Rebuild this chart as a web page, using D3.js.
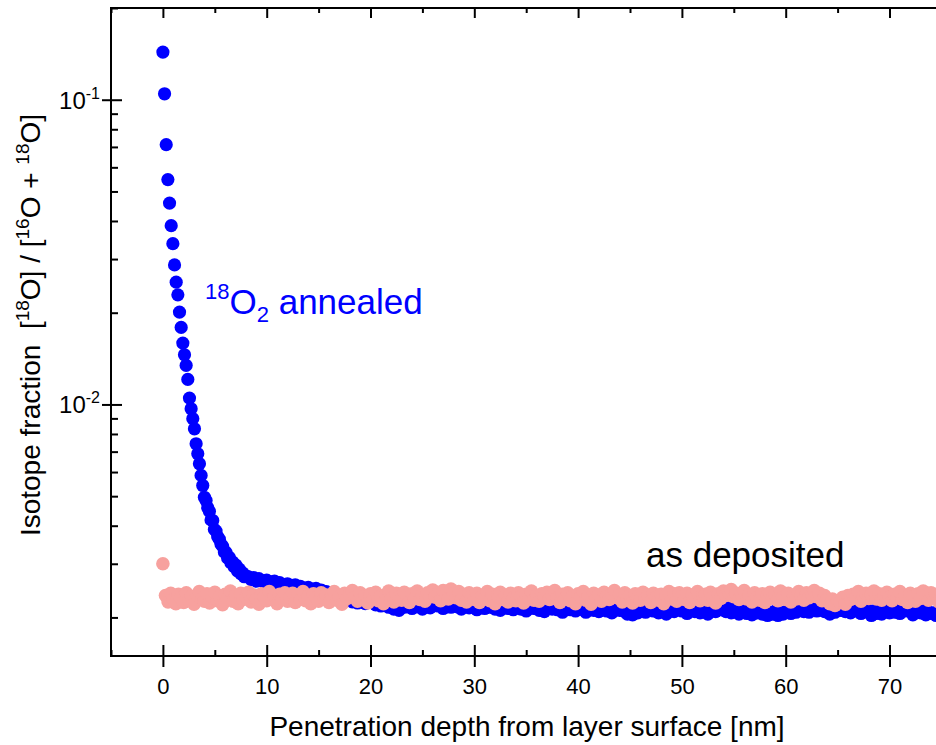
<!DOCTYPE html>
<html>
<head>
<meta charset="utf-8">
<script src="https://cdn.jsdelivr.net/npm/d3@7/dist/d3.min.js"></script>
<style>
  body { margin: 0; background: #fff; }
  text { font-family: Arial, "Liberation Sans", sans-serif; }
</style>
</head>
<body>
<svg id="chart" width="936" height="745"></svg>
<script>
// depth ticks (nm) and isotope fraction ticks
var depthMajor = [0, 10, 20, 30, 40, 50, 60, 70, 80];
var depthMinor = [-5, 5, 15, 25, 35, 45, 55, 65, 75];
var fracMajor = [0.01, 0.1];
var fracMinor = [0.002, 0.003, 0.004, 0.005, 0.006, 0.007, 0.008, 0.009,
                 0.02, 0.03, 0.04, 0.05, 0.06, 0.07, 0.08, 0.09, 0.2];

// 18O2 annealed: [depth nm, fraction]
var annealed = [
  [0, 0.1433], [0.16, 0.1046], [0.32, 0.0712], [0.48, 0.0547], [0.64, 0.0458],
  [0.8, 0.0386], [0.96, 0.0337], [1.12, 0.0287], [1.28, 0.0252], [1.44, 0.0229],
  [1.6, 0.0201], [1.76, 0.0179], [1.92, 0.0159], [2.08, 0.01456], [2.24, 0.01343],
  [2.4, 0.01208], [2.56, 0.01049], [2.72, 0.00968], [2.88, 0.00898], [3.04, 0.00832],
  [3.2, 0.00743], [3.36, 0.00689], [3.52, 0.00639], [3.68, 0.00585], [3.84, 0.00542],
  [4.0, 0.00496], [4.16, 0.00484], [4.32, 0.00458], [4.48, 0.00446], [4.64, 0.00418],
  [4.8, 0.00416], [4.96, 0.00389], [5.12, 0.00384], [5.28, 0.00368], [5.44, 0.00361],
  [5.6, 0.00348], [5.76, 0.00342], [5.92, 0.00328], [6.08, 0.00327], [6.24, 0.00313],
  [6.4, 0.00315], [6.56, 0.00302], [6.72, 0.00304], [6.88, 0.00293], [7.04, 0.00297],
  [7.2, 0.00284], [7.36, 0.00288], [7.52, 0.00278], [7.68, 0.00280], [7.84, 0.00272],
  [8.0, 0.00274],
  [8.25,0.00272],[8.5,0.00266],[8.75,0.00270],[9,0.00263],[9.25,0.00268],[9.5,0.00264],[9.75,0.00261],[10,0.00265],
  [10.25,0.00262],[10.5,0.00258],[10.75,0.00263],[11,0.00256],[11.25,0.00260],[11.5,0.00257],[11.75,0.00253],[12,0.00258],
  [12.25,0.00255],[12.5,0.00251],[12.75,0.00256],[13,0.00249],[13.25,0.00253],[13.5,0.00250],[13.75,0.00247],[14,0.00251],
  [14.25,0.00248],[14.5,0.00244],[14.75,0.00249],[15,0.00242],[15.25,0.00246],[15.5,0.00241],[15.75,0.00243],[16,0.00238],
  [16.25,0.00236],[16.5,0.00231],[16.75,0.00235],[17,0.00228],[17.25,0.00233],[17.5,0.00226],[17.75,0.00231],[18,0.00229],
  [18.25,0.00225],[18.5,0.00231],[18.75,0.00223],[19,0.00228],[19.25,0.00232],[19.5,0.00222],[19.75,0.00227],[20,0.00224],
  [20.25,0.00229],[20.5,0.00220],[20.75,0.00226],[21,0.00218],[21.25,0.00224],[21.5,0.00221],[21.75,0.00216],[22,0.00222],
  [22.25,0.00213],[22.5,0.00218],[22.75,0.00211],[23,0.00220],[23.25,0.00216],[23.5,0.00225],[23.75,0.00219],[24,0.00214],
  [24.25,0.00222],[24.5,0.00217],[24.75,0.00227],[25,0.00213],[25.25,0.00220],[25.5,0.00224],[25.75,0.00215],[26,0.00221],
  [26.25,0.00226],[26.5,0.00218],[26.75,0.00223],[27,0.00214],[27.25,0.00219],[27.5,0.00225],[27.75,0.00216],[28,0.00221],
  [28.25,0.00217],[28.5,0.00224],[28.75,0.00213],[29,0.00220],[29.25,0.00226],[29.5,0.00215],[29.75,0.00219],[30,0.00222],
  [30.25,0.00212],[30.5,0.00219],[30.75,0.00223],[31,0.00214],[31.25,0.00221],[31.5,0.00216],[31.75,0.00224],[32,0.00213],
  [32.25,0.00218],[32.5,0.00211],[32.75,0.00220],[33,0.00225],[33.25,0.00214],[33.5,0.00219],[33.75,0.00212],[34,0.00217],
  [34.25,0.00222],[34.5,0.00213],[34.75,0.00219],[35,0.00210],[35.25,0.00216],[35.5,0.00223],[35.75,0.00214],[36,0.00218],
  [36.25,0.00211],[36.5,0.00220],[36.75,0.00209],[37,0.00216],[37.25,0.00222],[37.5,0.00213],[37.75,0.00218],[38,0.00212],
  [38.25,0.00219],[38.5,0.00208],[38.75,0.00215],[39,0.00221],[39.25,0.00212],[39.5,0.00217],[39.75,0.00210],[40,0.00220],
  [40.25,0.00213],[40.5,0.00217],[40.75,0.00208],[41,0.00215],[41.25,0.00221],[41.5,0.00211],[41.75,0.00216],[42,0.00209],
  [42.25,0.00214],[42.5,0.00220],[42.75,0.00210],[43,0.00216],[43.25,0.00207],[43.5,0.00213],[43.75,0.00218],[44,0.00211],
  [44.25,0.00215],[44.5,0.00209],[44.75,0.00205],[45,0.00212],[45.25,0.00204],[45.5,0.00210],[45.75,0.00207],[46,0.00213],
  [46.25,0.00216],[46.5,0.00208],[46.75,0.00214],[47,0.00218],[47.25,0.00210],[47.5,0.00213],[47.75,0.00207],[48,0.00216],
  [48.25,0.00211],[48.5,0.00205],[48.75,0.00214],[49,0.00219],[49.25,0.00209],[49.5,0.00213],[49.75,0.00217],[50,0.00210],
  [50.25,0.00215],[50.5,0.00206],[50.75,0.00212],[51,0.00218],[51.25,0.00209],[51.5,0.00214],[51.75,0.00207],[52,0.00216],
  [52.25,0.00210],[52.5,0.00205],[52.75,0.00213],[53,0.00218],[53.25,0.00209],[53.5,0.00215],[53.75,0.00212],[54,0.00219],
  [54.25,0.00209],[54.5,0.00214],[54.75,0.00207],[55,0.00215],[55.25,0.00211],[55.5,0.00205],[55.75,0.00213],[56,0.00210],
  [56.25,0.00206],[56.5,0.00212],[56.75,0.00204],[57,0.00209],[57.25,0.00207],[57.5,0.00211],[57.75,0.00205],[58,0.00210],
  [58.25,0.00203],[58.5,0.00208],[58.75,0.00205],[59,0.00210],[59.25,0.00203],[59.5,0.00207],[59.75,0.00205],[60,0.00209],
  [60.25,0.00210],[60.5,0.00206],[60.75,0.00213],[61,0.00208],[61.25,0.00212],[61.5,0.00216],[61.75,0.00209],[62,0.00214],
  [62.25,0.00208],[62.5,0.00213],[62.75,0.00218],[63,0.00210],[63.25,0.00215],[63.5,0.00212],[63.75,0.00209],[64,0.00216],
  [64.25,0.00205],[64.5,0.00212],[64.75,0.00208],[65,0.00218],[65.25,0.00211],[65.5,0.00215],[65.75,0.00209],[66,0.00214],
  [66.25,0.00207],[66.5,0.00213],[66.75,0.00210],[67,0.00216],[67.25,0.00206],[67.5,0.00211],[67.75,0.00214],[68,0.00208],
  [68.25,0.00203],[68.5,0.00210],[68.75,0.00206],[69,0.00212],[69.25,0.00205],[69.5,0.00209],[69.75,0.00213],[70,0.00207],
  [70.25,0.00214],[70.5,0.00208],[70.75,0.00212],[71,0.00206],[71.25,0.00215],[71.5,0.00210],[71.75,0.00216],[72,0.00211],
  [72.25,0.00204],[72.5,0.00209],[72.75,0.00213],[73,0.00207],[73.25,0.00211],[73.5,0.00204],[73.75,0.00209],[74,0.00206],
  [74.25,0.00207],[74.5,0.00203],[74.75,0.00208],[75,0.00205],[75.25,0.00210],[75.5,0.00204],[75.75,0.00208],[76,0.00206],
  [76.25,0.00209],[76.5,0.00205]
];

// as deposited: [depth nm, fraction]
var deposited = [
  [0,0.00300],
  [0.25,0.00236],[0.5,0.00225],[0.75,0.00240],[1,0.00229],[1.25,0.00222],[1.5,0.00238],[1.75,0.00231],[2,0.00224],
  [2.25,0.00241],[2.5,0.00228],[2.75,0.00234],[3,0.00221],[3.25,0.00237],[3.5,0.00243],[3.75,0.00230],[4,0.00226],
  [4.25,0.00239],[4.5,0.00223],[4.75,0.00233],[5,0.00242],[5.25,0.00227],[5.5,0.00235],[5.75,0.00220],[6,0.00238],
  [6.25,0.00231],[6.5,0.00244],[6.75,0.00226],[7,0.00236],[7.25,0.00222],[7.5,0.00240],[7.75,0.00229],[8,0.00233],
  [8.25,0.00242],[8.5,0.00225],[8.75,0.00237],[9,0.00230],[9.25,0.00221],[9.5,0.00239],[9.75,0.00234],[10,0.00227],
  [10.25,0.00243],[10.5,0.00229],[10.75,0.00236],[11,0.00222],[11.25,0.00238],[11.5,0.00231],[11.75,0.00241],[12,0.00226],
  [12.25,0.00233],[12.5,0.00240],[12.75,0.00224],[13,0.00237],[13.25,0.00229],[13.5,0.00243],[13.75,0.00227],[14,0.00235],
  [14.25,0.00222],[14.5,0.00239],[14.75,0.00232],[15,0.00226],[15.25,0.00241],[15.5,0.00230],[15.75,0.00237],[16,0.00224],
  [16.25,0.00236],[16.5,0.00243],[16.75,0.00228],[17,0.00234],[17.25,0.00221],[17.5,0.00240],[17.75,0.00231],[18,0.00238],
  [18.25,0.00245],[18.5,0.00233],[18.75,0.00226],[19,0.00241],[19.25,0.00229],[19.5,0.00236],[19.75,0.00223],[20,0.00239],
  [20.25,0.00230],[20.5,0.00242],[20.75,0.00227],[21,0.00235],[21.25,0.00222],[21.5,0.00238],[21.75,0.00244],[22,0.00231],
  [22.25,0.00225],[22.5,0.00240],[22.75,0.00233],[23,0.00228],[23.25,0.00242],[23.5,0.00236],[23.75,0.00224],[24,0.00239],
  [24.25,0.00231],[24.5,0.00244],[24.75,0.00229],[25,0.00237],[25.25,0.00226],[25.5,0.00241],[25.75,0.00234],[26,0.00246],
  [26.25,0.00233],[26.5,0.00240],[26.75,0.00227],[27,0.00245],[27.25,0.00236],[27.5,0.00230],[27.75,0.00248],[28,0.00239],
  [28.25,0.00232],[28.5,0.00243],[28.75,0.00228],[29,0.00238],[29.25,0.00225],[29.5,0.00241],[29.75,0.00234],[30,0.00229],
  [30.25,0.00240],[30.5,0.00224],[30.75,0.00236],[31,0.00231],[31.25,0.00243],[31.5,0.00227],[31.75,0.00238],[32,0.00222],
  [32.25,0.00235],[32.5,0.00242],[32.75,0.00229],[33,0.00237],[33.25,0.00225],[33.5,0.00240],[33.75,0.00232],[34,0.00227],
  [34.25,0.00241],[34.5,0.00234],[34.75,0.00223],[35,0.00238],[35.25,0.00230],[35.5,0.00244],[35.75,0.00228],[36,0.00236],
  [36.25,0.00226],[36.5,0.00239],[36.75,0.00233],[37,0.00242],[37.25,0.00229],[37.5,0.00236],[37.75,0.00245],[38,0.00231],
  [38.25,0.00224],[38.5,0.00238],[38.75,0.00230],[39,0.00241],[39.25,0.00227],[39.5,0.00235],[39.75,0.00222],[40,0.00239],
  [40.25,0.00233],[40.5,0.00243],[40.75,0.00228],[41,0.00236],[41.25,0.00221],[41.5,0.00240],[41.75,0.00231],[42,0.00237],
  [42.25,0.00226],[42.5,0.00242],[42.75,0.00234],[43,0.00229],[43.25,0.00239],[43.5,0.00245],[43.75,0.00232],[44,0.00237],
  [44.25,0.00225],[44.5,0.00241],[44.75,0.00230],[45,0.00236],[45.25,0.00223],[45.5,0.00239],[45.75,0.00234],[46,0.00228],
  [46.25,0.00242],[46.5,0.00231],[46.75,0.00237],[47,0.00224],[47.25,0.00240],[47.5,0.00233],[47.75,0.00228],[48,0.00238],
  [48.25,0.00222],[48.5,0.00236],[48.75,0.00243],[49,0.00230],[49.25,0.00239],[49.5,0.00226],[49.75,0.00241],[50,0.00234],
  [50.25,0.00229],[50.5,0.00240],[50.75,0.00224],[51,0.00237],[51.25,0.00232],[51.5,0.00243],[51.75,0.00227],[52,0.00235],
  [52.25,0.00238],[52.5,0.00228],[52.75,0.00242],[53,0.00233],[53.25,0.00223],[53.5,0.00239],[53.75,0.00231],[54,0.00244],
  [54.25,0.00236],[54.5,0.00241],[54.75,0.00247],[55,0.00234],[55.25,0.00240],[55.5,0.00229],[55.75,0.00238],[56,0.00245],
  [56.25,0.00230],[56.5,0.00237],[56.75,0.00225],[57,0.00241],[57.25,0.00233],[57.5,0.00228],[57.75,0.00239],[58,0.00224],
  [58.25,0.00236],[58.5,0.00242],[58.75,0.00231],[59,0.00238],[59.25,0.00227],[59.5,0.00244],[59.75,0.00233],[60,0.00229],
  [60.25,0.00240],[60.5,0.00225],[60.75,0.00235],[61,0.00230],[61.25,0.00243],[61.5,0.00237],[61.75,0.00228],[62,0.00241],
  [62.25,0.00232],[62.5,0.00239],[62.75,0.00245],[63,0.00234],[63.25,0.00240],[63.5,0.00227],[63.75,0.00236],[64,0.00229],
  [64.25,0.00222],[64.5,0.00230],[64.75,0.00219],[65,0.00227],[65.25,0.00224],[65.5,0.00233],[65.75,0.00221],[66,0.00236],
  [66.25,0.00229],[66.5,0.00238],[66.75,0.00232],[67,0.00243],[67.25,0.00226],[67.5,0.00235],[67.75,0.00240],[68,0.00231],
  [68.25,0.00237],[68.5,0.00244],[68.75,0.00230],[69,0.00239],[69.25,0.00228],[69.5,0.00236],[69.75,0.00242],[70,0.00233],
  [70.25,0.00227],[70.5,0.00238],[70.75,0.00232],[71,0.00243],[71.25,0.00229],[71.5,0.00236],[71.75,0.00224],[72,0.00240],
  [72.25,0.00234],[72.5,0.00226],[72.75,0.00239],[73,0.00231],[73.25,0.00244],[73.5,0.00236],[73.75,0.00228],[74,0.00241],
  [74.25,0.00232],[74.5,0.00238],[74.75,0.00225],[75,0.00240],[75.25,0.00235],[75.5,0.00229],[75.75,0.00243],[76,0.00233],
  [76.25,0.00237],[76.5,0.00228],[76.75,0.00235]
];

var svg = d3.select("#chart");
svg.append("rect").attr("width", 936).attr("height", 745).attr("fill", "#fff");

var plotLeft = 111, plotTop = 8, plotBottom = 656;
var x = d3.scaleLinear().domain([-5, 80]).range([plotLeft, 993.3]);
var y = d3.scaleLog().domain([0.0015, 0.2]).range([655.5, plotTop]);

// data points
var plot = svg.append("g");
plot.selectAll("circle.ann").data(annealed).enter().append("circle")
  .attr("class", "ann")
  .attr("cx", function (d) { return x(d[0]); })
  .attr("cy", function (d) { return y(d[1]); })
  .attr("r", 6.6)
  .attr("fill", "#0000ff");
plot.selectAll("circle.dep").data(deposited).enter().append("circle")
  .attr("class", "dep")
  .attr("cx", function (d) { return x(d[0]); })
  .attr("cy", function (d) { return y(d[1]); })
  .attr("r", 6.8)
  .attr("fill", "#f7a19e");

function styleAxis(g) {
  g.select(".domain").remove();
  g.attr("font-size", 22).attr("font-family", null);
  g.selectAll("line").attr("stroke", "#000").attr("stroke-width", 2);
  g.selectAll("text").attr("fill", "#000");
}

// bottom axis
var gx = svg.append("g").attr("transform", "translate(0," + plotBottom + ")");
gx.append("g").call(d3.axisBottom(x).tickValues(depthMajor).tickSize(11).tickPadding(11)
    .tickFormat(function (d) { return d < 75 ? d3.format("d")(d) : ""; })).call(styleAxis);
gx.append("g").call(d3.axisBottom(x).tickValues(depthMajor).tickSize(-11).tickFormat("")).call(styleAxis);
gx.append("g").call(d3.axisBottom(x).tickValues(depthMinor).tickSize(-6).tickFormat("")).call(styleAxis);

// top axis (ticks pointing inward)
var gt = svg.append("g").attr("transform", "translate(0," + plotTop + ")");
gt.append("g").call(d3.axisBottom(x).tickValues(depthMajor).tickSize(10).tickFormat("")).call(styleAxis);
gt.append("g").call(d3.axisBottom(x).tickValues(depthMinor).tickSize(5).tickFormat("")).call(styleAxis);

// left axis
var gy = svg.append("g").attr("transform", "translate(" + plotLeft + ",0)");
gy.append("g").call(d3.axisLeft(y).tickValues(fracMajor).tickSize(9).tickFormat("")).call(styleAxis);
gy.append("g").call(d3.axisLeft(y).tickValues(fracMajor).tickSize(-11).tickFormat("")).call(styleAxis);
gy.append("g").call(d3.axisLeft(y).tickValues(fracMinor).tickSize(-7).tickFormat("")).call(styleAxis);

// y tick labels 10^-n
fracMajor.forEach(function (v) {
  var t = svg.append("text")
    .attr("x", 100).attr("y", y(v) + 9)
    .attr("text-anchor", "end").style("font-size", "24px");
  t.append("tspan").text("10");
  t.append("tspan").attr("dy", -10).style("font-size", "16px")
    .text("-" + Math.round(-Math.log10(v)));
});

// frame lines
svg.append("line").attr("x1", plotLeft).attr("x2", plotLeft).attr("y1", plotTop - 1).attr("y2", plotBottom + 1)
  .attr("stroke", "#000").attr("stroke-width", 2);
svg.append("line").attr("x1", plotLeft).attr("x2", 936).attr("y1", plotBottom).attr("y2", plotBottom)
  .attr("stroke", "#000").attr("stroke-width", 2);
svg.append("line").attr("x1", plotLeft).attr("x2", 936).attr("y1", plotTop).attr("y2", plotTop)
  .attr("stroke", "#000").attr("stroke-width", 2);

// rich text with super/subscripts: the shift is undone on the following part
function richText(t, parts, small, shift) {
  var pending = 0;
  parts.forEach(function (p) {
    var s = t.append("tspan").text(p[0]);
    var dy = pending;
    if (p[1] === "sup") { dy -= shift; pending = shift; s.style("font-size", small + "px"); }
    else if (p[1] === "sub") { dy += shift * 0.55; pending = -shift * 0.55; s.style("font-size", small + "px"); }
    else { pending = 0; }
    if (dy) s.attr("dy", dy);
  });
}

// axis titles
svg.append("text").attr("x", 527).attr("y", 736).attr("text-anchor", "middle")
  .style("font-size", "28px").text("Penetration depth from layer surface [nm]");

var yt = svg.append("text").attr("text-anchor", "middle")
  .attr("transform", "translate(40,325) rotate(-90)")
  .style("font-size", "28px");
richText(yt, [["Isotope fraction\u00a0\u00a0["], ["18", "sup"], ["O] / ["], ["16", "sup"],
  ["O + "], ["18", "sup"], ["O]"]], 19, 11);

// series labels
var al = svg.append("text").attr("x", 205).attr("y", 314)
  .attr("fill", "#0000ff").style("font-size", "35px");
richText(al, [["18", "sup"], ["O"], ["2", "sub"], [" annealed"]], 22, 15);

svg.append("text").attr("x", 646).attr("y", 567)
  .style("font-size", "35px").text("as deposited");
</script>
</body>
</html>
